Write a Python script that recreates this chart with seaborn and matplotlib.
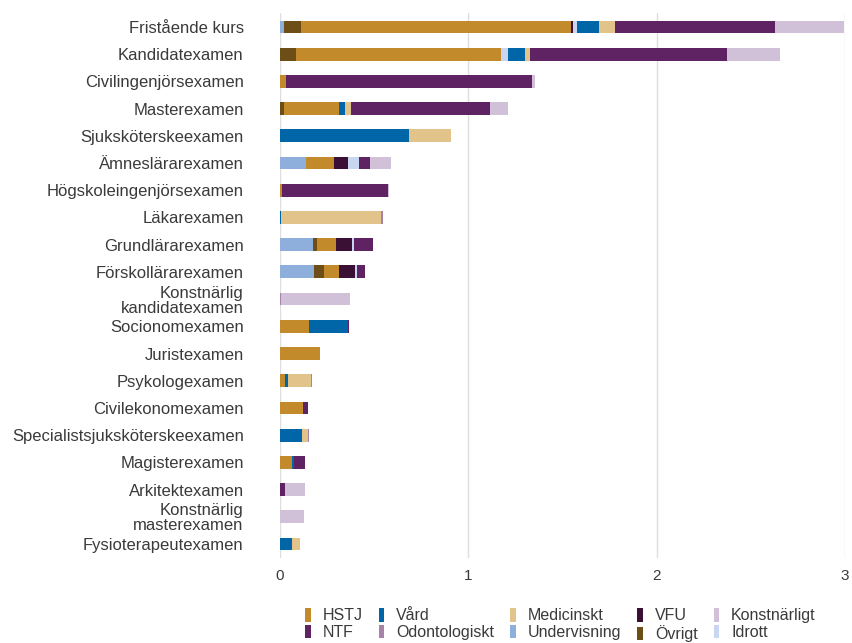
import numpy as np
import pandas as pd
import seaborn as sns
import matplotlib
matplotlib.use("Agg")
import matplotlib.pyplot as plt
from matplotlib.patches import Patch

categories = ["Fristående kurs", "Kandidatexamen", "Civilingenjörsexamen", "Masterexamen",
              "Sjuksköterskeexamen", "Ämneslärarexamen", "Högskoleingenjörsexamen", "Läkarexamen",
              "Grundlärarexamen", "Förskollärarexamen", "Konstnärlig\nkandidatexamen", "Socionomexamen",
              "Juristexamen", "Psykologexamen", "Civilekonomexamen", "Specialistsjuksköterskeexamen",
              "Magisterexamen", "Arkitektexamen", "Konstnärlig\nmasterexamen", "Fysioterapeutexamen"]

undervisning  = [0.025, 0, 0, 0, 0, 0.138, 0, 0, 0.177, 0.184, 0, 0, 0, 0, 0, 0, 0, 0, 0, 0]
ovrigt        = [0.085, 0.088, 0, 0.020, 0, 0, 0, 0, 0.021, 0.050, 0, 0, 0, 0, 0, 0, 0, 0, 0, 0]
hstj          = [1.434, 1.084, 0.033, 0.293, 0, 0.149, 0.010, 0, 0.099, 0.078, 0, 0.156, 0.214, 0.030, 0.124, 0, 0.064, 0, 0, 0]
vfu           = [0.010, 0, 0, 0, 0, 0.076, 0, 0, 0.085, 0.087, 0, 0, 0, 0, 0, 0, 0, 0, 0, 0]
idrott        = [0.024, 0.039, 0, 0, 0, 0.058, 0, 0, 0.010, 0.009, 0, 0, 0, 0, 0, 0, 0, 0, 0, 0]
vard          = [0.114, 0.088, 0, 0.031, 0.684, 0, 0, 0.005, 0, 0, 0, 0.205, 0, 0.012, 0, 0.119, 0.014, 0, 0, 0.067]
medicinskt    = [0.086, 0.029, 0, 0.033, 0.226, 0, 0, 0.531, 0, 0, 0, 0, 0, 0.122, 0, 0.030, 0, 0, 0, 0.039]
odontologiskt = [0, 0, 0, 0, 0, 0, 0, 0.012, 0, 0, 0.007, 0, 0, 0.007, 0, 0.007, 0, 0, 0, 0]
ntf           = [0.850, 1.047, 1.306, 0.739, 0, 0.060, 0.563, 0, 0.104, 0.046, 0, 0.005, 0, 0, 0.027, 0, 0.058, 0.028, 0, 0]
konstnarligt  = [0.367, 0.281, 0.018, 0.096, 0, 0.110, 0.007, 0, 0, 0, 0.366, 0, 0, 0, 0, 0, 0, 0.108, 0.129, 0]

series = [
    ("Undervisning", undervisning, "#8EAEDC"),
    ("Övrigt", ovrigt, "#6E4E17"),
    ("HSTJ", hstj, "#C38A2C"),
    ("VFU", vfu, "#3A1035"),
    ("Idrott", idrott, "#C8D6F0"),
    ("Vård", vard, "#0066A8"),
    ("Medicinskt", medicinskt, "#E2C48A"),
    ("Odontologiskt", odontologiskt, "#A783A8"),
    ("NTF", ntf, "#5F2263"),
    ("Konstnärligt", konstnarligt, "#D0C0D8"),
]

sns.set_theme(style="white")
plt.rcParams["font.family"] = ["Liberation Sans", "DejaVu Sans"]
text_color = "#3a3a3a"

fig = plt.figure(figsize=(8.53, 6.43), dpi=100)
ax = fig.add_axes([0.328, 0.1328, 0.9906 - 0.328, 0.9792 - 0.1328])

cum = np.cumsum(np.array([s[1] for s in series]), axis=0)
for i in range(len(series) - 1, -1, -1):
    df = pd.DataFrame({"cat": categories, "val": cum[i]})
    sns.barplot(data=df, x="val", y="cat", orient="h", color=series[i][2],
                saturation=1, width=0.47, linewidth=0, ax=ax)

ax.set_xlim(0, 3)
ax.set_xticks([0, 1, 2, 3])
ax.set_xticklabels(["0", "1", "2", "3"])
ax.set_xlabel("")
ax.set_ylabel("")
ax.xaxis.grid(True, color="#dedede", lw=1)
ax.yaxis.grid(False)
ax.set_axisbelow(True)
for sp in ax.spines.values():
    sp.set_visible(False)
ax.tick_params(axis="x", length=0, pad=8, labelsize=11, colors=text_color)
ax.tick_params(axis="y", length=0, pad=26, labelsize=12, colors=text_color)
for lbl in ax.get_yticklabels():
    lbl.set_multialignment("right")
    lbl.set_linespacing(1.0)

lookup = {name: col for name, _, col in series}
order = ["HSTJ", "NTF", "Vård", "Odontologiskt", "Medicinskt", "Undervisning",
         "VFU", "Övrigt", "Konstnärligt", "Idrott"]
handles = [Patch(facecolor=lookup[n], edgecolor="none", label=n) for n in order]
leg = fig.legend(handles=handles, loc="upper center", bbox_to_anchor=(0.657, 0.054),
                 ncol=5, frameon=False, fontsize=11.5, handlelength=0.35, handleheight=0.9,
                 handletextpad=0.75, columnspacing=1.0, labelspacing=0.08, borderaxespad=0,
                 borderpad=0)
for t in leg.get_texts():
    t.set_color(text_color)

fig.savefig("out.png", dpi=100)
